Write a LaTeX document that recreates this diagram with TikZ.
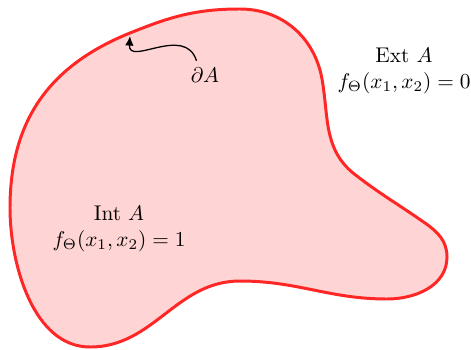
\documentclass[tikz,border=0pt]{standalone}
\usepackage{amsmath,amssymb}
\usepackage{xcolor}
\usetikzlibrary{arrows.meta,positioning}

\begin{document}
\begin{tikzpicture}[
  x=0.47pt, y=0.47pt,
  region/.style={draw=red!85, fill=red!17, line width=1.4pt},
  lbl/.style={align=center, inner sep=1pt},
  arr/.style={-{Latex[length=4.5pt,width=4pt]}, semithick}
]
\useasboundingbox (0,0) rectangle (471,349);

% the set A
\draw[region] (240,340) to[out=0,in=100] (322,270)
  to[out=-80,in=140] (353,176)
  to[out=-38,in=145] (425,126)
  to[out=-35,in=90] (447,92)
  to[out=-90,in=0] (387,50)
  to[out=180,in=0] (240,68)
  to[out=180,in=0] (90,2)
  to[out=180,in=-90,looseness=0.9] (10,141)
  to[out=90,in=-158,looseness=1.05] (130,316)
  to[out=22,in=180] cycle;

\node[lbl] (int) at (119,120) {Int $A$\\$f_\Theta(x_1,x_2)=1$};
\node[lbl] (ext) at (404,278) {Ext $A$\\$f_\Theta(x_1,x_2)=0$};
\node[lbl] (dA) at (205,274) {$\partial A$};
\coordinate (tip) at (130,313);

\draw[arr] ([xshift=-4pt,yshift=2pt]dA.north) .. controls (185,325) and (128,282) .. (tip);
\end{tikzpicture}
\end{document}
